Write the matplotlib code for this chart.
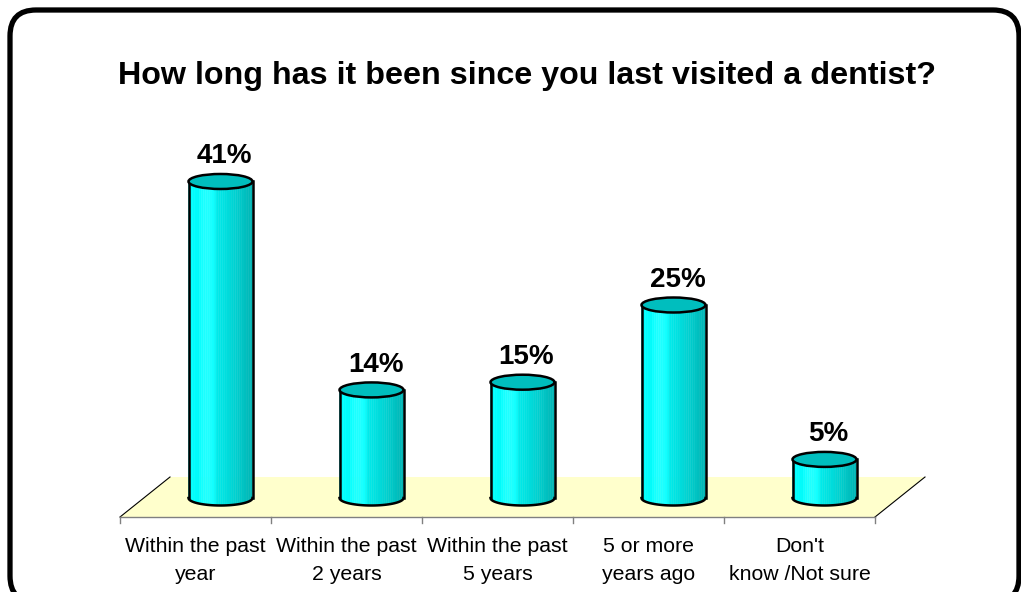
import numpy as np
import matplotlib.pyplot as plt
from matplotlib.patches import Polygon, Ellipse, FancyBboxPatch

plt.rcParams['font.family'] = ['Liberation Sans', 'DejaVu Sans']

categories = ["Within the past\nyear", "Within the past\n2 years",
              "Within the past\n5 years", "5 or more\nyears ago",
              "Don't\nknow /Not sure"]
values = [41, 14, 15, 25, 5]
labels = [f"{v}%" for v in values]
title = "How long has it been since you last visited a dentist?"

W, H = 1021, 592
fig = plt.figure(figsize=(W / 100, H / 100), dpi=100)

# background axes in pixel units for the rounded frame
bg = fig.add_axes([0, 0, 1, 1])
bg.set_xlim(0, W)
bg.set_ylim(H, 0)
bg.axis('off')
bg.add_patch(FancyBboxPatch((10, 10), 1009, 592,
                            boxstyle="round,pad=0,rounding_size=26",
                            facecolor='white', edgecolor='black', lw=3.8))

# plot axes: x in category units, y in percent
ax = fig.add_axes([120 / W, (H - 498) / H, 755 / W, 386 / H])
ax.set_xlim(-0.5, len(values) - 0.5)
ax.set_ylim(0, 50)
ax.axis('off')
px_x = len(values) / 755
px_y = 50 / 386

# floor
yf, yb = -19 * px_y, 21 * px_y
dx = 50 * px_x
x0, x1 = -0.5, len(values) - 0.5
ax.add_patch(Polygon([(x0, yf), (x1, yf), (x1 + dx, yb), (x0 + dx, yb)],
                     closed=True, facecolor='#FFFFCC', edgecolor='none',
                     clip_on=False, zorder=1))
ax.plot([x0, x0 + dx], [yf, yb], color='black', lw=0.8, clip_on=False, zorder=2)
ax.plot([x1, x1 + dx], [yf, yb], color='black', lw=0.8, clip_on=False, zorder=2)
ax.plot([x0, x1], [yf, yf], color='#808080', lw=1, clip_on=False, zorder=2)
for t in np.arange(x0, x1 + 0.01, 1):
    ax.plot([t, t], [yf, yf - 6 * px_y], color='#808080', lw=1,
            clip_on=False, zorder=2)

# cylinders
r = 32 * px_x
ey = 7.5 * px_y
c_left = np.array([0.0, 1.0, 1.0])
c_right = np.array([0.0, 0.70, 0.70])
n = 30
for i, v in enumerate(values):
    cx = i + 25 * px_x
    edges = np.linspace(cx - r, cx + r, n + 1)
    for k in range(n):
        a, b = edges[k], edges[k + 1]
        f = (k + 0.5) / n
        col = c_left + (c_right - c_left) * f ** 1.6
        if 0.15 < f < 0.45:
            col = np.clip(col + 0.12 * np.sin((f - 0.15) / 0.3 * np.pi), 0, 1)
        ya = -ey * np.sqrt(max(0.0, 1 - ((a - cx) / r) ** 2))
        yb2 = -ey * np.sqrt(max(0.0, 1 - ((b - cx) / r) ** 2))
        ax.add_patch(Polygon([(a, v), (b, v), (b, yb2), (a, ya)], closed=True,
                             facecolor=col, edgecolor=col, lw=0.3,
                             clip_on=False, zorder=3))
    t = np.linspace(np.pi, 2 * np.pi, 60)
    ax.plot(cx + r * np.cos(t), ey * np.sin(t), color='black', lw=1.8,
            clip_on=False, zorder=4)
    ax.plot([cx - r, cx - r], [0, v], color='black', lw=1.8, zorder=4, clip_on=False)
    ax.plot([cx + r, cx + r], [0, v], color='black', lw=1.8, zorder=4, clip_on=False)
    ax.add_patch(Ellipse((cx, v), 2 * r, 2 * ey, facecolor='#00BEBE',
                         edgecolor='black', lw=1.8, zorder=5, clip_on=False))
    ax.text(cx + 4 * px_x, v + 25 * px_y, labels[i], ha='center', va='center',
            fontsize=20, fontweight='bold', zorder=6)

# category labels
for i, c in enumerate(categories):
    ax.text(i, -63 * px_y, c, ha='center', va='center', fontsize=15.3,
            linespacing=1.6, clip_on=False)

fig.text(527 / W, 1 - 76 / H, title, ha='center', va='center',
         fontsize=23.2, fontweight='bold')

fig.savefig('out.png', dpi=100)
